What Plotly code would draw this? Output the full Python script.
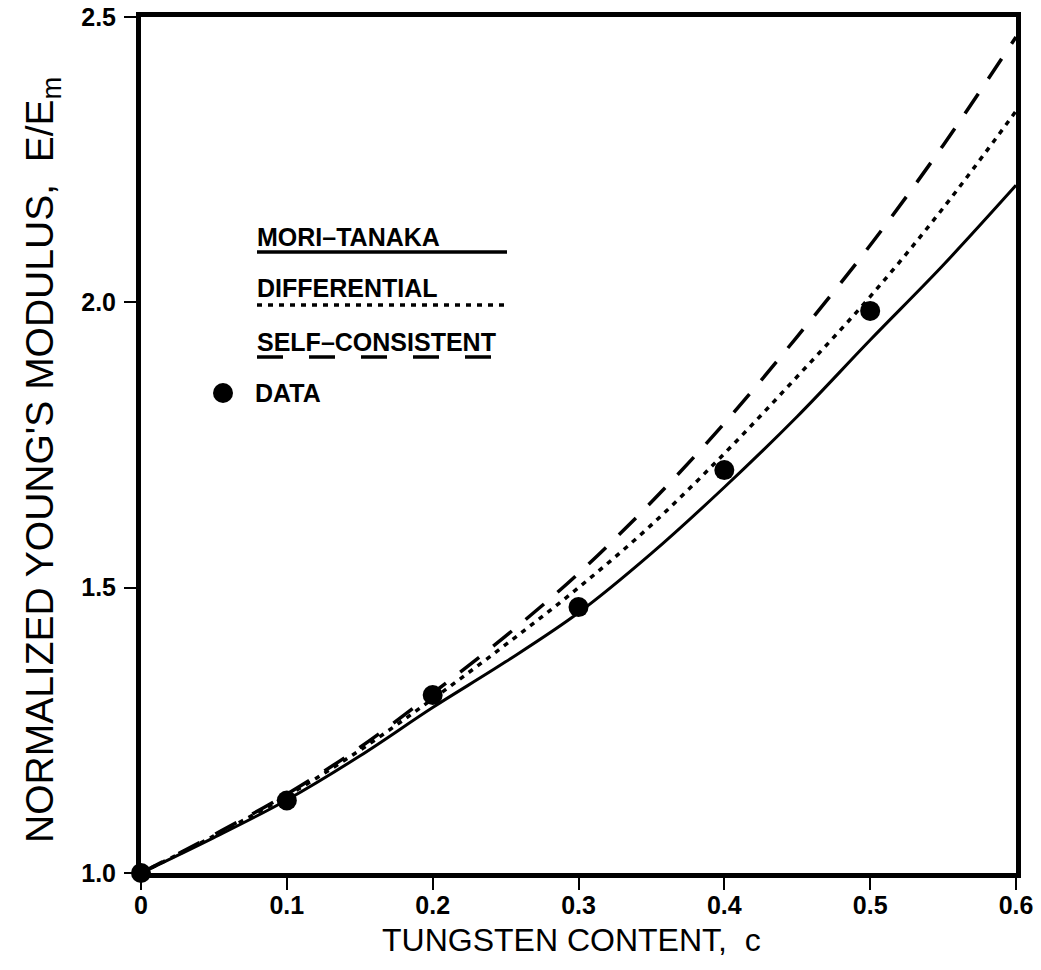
import plotly.graph_objects as go

# ---- data ----
c_grid = [0.0, 0.05, 0.1, 0.15, 0.2, 0.25, 0.3, 0.35, 0.4, 0.45, 0.5, 0.55, 0.6]
mori_tanaka = [1.0, 1.062, 1.128, 1.205, 1.29, 1.37, 1.456, 1.56, 1.676, 1.80, 1.934, 2.065, 2.205]
differential = [1.0, 1.065, 1.135, 1.215, 1.305, 1.40, 1.50, 1.61, 1.735, 1.87, 2.01, 2.165, 2.335]
self_consistent = [1.0, 1.067, 1.138, 1.22, 1.315, 1.415, 1.525, 1.65, 1.788, 1.94, 2.10, 2.275, 2.465]

data_c = [0.0, 0.1, 0.2, 0.3, 0.4, 0.5]
data_E = [1.0, 1.127, 1.312, 1.466, 1.706, 1.985]

x_ticks = [0, 0.1, 0.2, 0.3, 0.4, 0.5, 0.6]
x_tick_labels = ["0", "0.1", "0.2", "0.3", "0.4", "0.5", "0.6"]
y_ticks = [1.0, 1.5, 2.0, 2.5]
y_tick_labels = ["1.0", "1.5", "2.0", "2.5"]

legend_labels = ["MORI\u2013TANAKA", "DIFFERENTIAL", "SELF\u2013CONSISTENT", "DATA"]
x_title = "TUNGSTEN CONTENT,  c"
y_title = "NORMALIZED YOUNG'S MODULUS,  E/E<sub>m</sub>"

SANS = "Liberation Sans, Arial, sans-serif"

fig = go.Figure()
fig.add_trace(go.Scatter(x=c_grid, y=mori_tanaka, mode="lines",
                         line=dict(color="black", width=3, shape="spline"), showlegend=False))
fig.add_trace(go.Scatter(x=c_grid, y=differential, mode="lines",
                         line=dict(color="black", width=3.5, dash="5px,6px", shape="spline"),
                         showlegend=False))
fig.add_trace(go.Scatter(x=c_grid, y=self_consistent, mode="lines",
                         line=dict(color="black", width=3.5, dash="24px,18px", shape="spline"),
                         showlegend=False))
fig.add_trace(go.Scatter(x=data_c, y=data_E, mode="markers",
                         marker=dict(color="black", size=20, symbol="circle"),
                         showlegend=False, cliponaxis=False))

# ---- pixel -> paper helper (plot area 141..1016 x 17..873) ----
def px2paper(px, py):
    return (px - 141) / 875.0, (873 - py) / 856.0

# ---- legend (annotations + underline shapes) ----
text_left = 255
rows = [(237, 252, "solid"), (288, 305, "5px,6px"), (342, 357, "26px,26px")]
for (ty, ly, dash), lab in zip(rows, legend_labels[:3]):
    xp, yp = px2paper(text_left, ty)
    fig.add_annotation(x=xp, y=yp, xref="paper", yref="paper", text=lab, showarrow=False,
                       xanchor="left", yanchor="middle",
                       font=dict(family=SANS, size=25, color="black", weight="bold"))
    x0, y0 = px2paper(257, ly)
    x1, _ = px2paper(507, ly)
    fig.add_shape(type="line", xref="paper", yref="paper", x0=x0, x1=x1, y0=y0, y1=y0,
                  line=dict(color="black", width=3.5, dash=dash))
xp, yp = px2paper(253, 393)
fig.add_annotation(x=xp, y=yp, xref="paper", yref="paper", text=legend_labels[3], showarrow=False,
                   xanchor="left", yanchor="middle",
                   font=dict(family=SANS, size=25, color="black", weight="bold"))
mx0, my0 = px2paper(213, 403)
mx1, my1 = px2paper(233, 383)
fig.add_shape(type="circle", xref="paper", yref="paper", x0=mx0, x1=mx1, y0=my0, y1=my1,
              fillcolor="black", line=dict(color="black", width=0))

# ---- axis titles as annotations ----
xp, yp = px2paper(571, 940)
fig.add_annotation(x=xp, y=yp, xref="paper", yref="paper", text=x_title, showarrow=False,
                   xanchor="center", yanchor="middle", font=dict(family=SANS, size=32, color="black"))
xp, yp = px2paper(42, 460)
fig.add_annotation(x=xp, y=yp, xref="paper", yref="paper", text=y_title, showarrow=False, textangle=-90,
                   xanchor="center", yanchor="middle", font=dict(family=SANS, size=39, color="black"))

fig.update_xaxes(range=[0, 0.6], tickvals=x_ticks, ticktext=x_tick_labels, ticks="outside", ticklen=12,
                 tickwidth=2, tickcolor="black", showline=True, linecolor="black", linewidth=5, mirror=True,
                 showgrid=False, zeroline=False, ticklabelstandoff=-6, automargin=False,
                 tickfont=dict(family=SANS, size=25, color="black", weight="bold"))
fig.update_yaxes(range=[1.0, 2.5], tickvals=y_ticks, ticktext=y_tick_labels, ticks="outside", ticklen=12,
                 tickwidth=2, tickcolor="black", showline=True, linecolor="black", linewidth=5, mirror=True,
                 showgrid=False, zeroline=False, ticklabelstandoff=3, automargin=False,
                 tickfont=dict(family=SANS, size=25, color="black", weight="bold"))

fig.update_layout(width=1041, height=970, margin=dict(l=141, r=25, t=17, b=97),
                  plot_bgcolor="white", paper_bgcolor="white", showlegend=False)

fig.write_html("out.html", config={"displayModeBar": False},
               post_script="document.body.style.margin='0';")
